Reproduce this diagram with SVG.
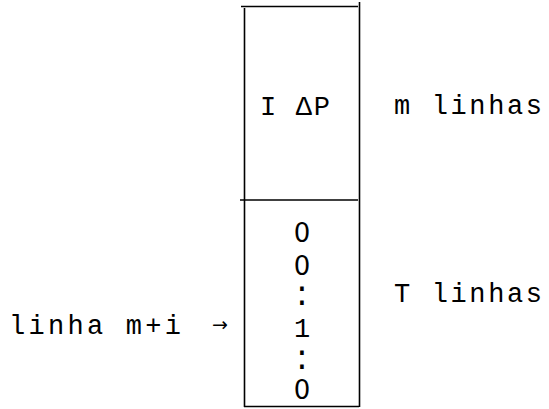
<svg xmlns="http://www.w3.org/2000/svg" width="549" height="409" viewBox="0 0 549 409">
<style>
.ln{stroke:#000;stroke-width:1.6;fill:none;stroke-linecap:butt}
.tw{font-family:"Liberation Mono","Courier New",monospace;font-size:27px;fill:#000}
.dg{font-family:"DejaVu Sans","Noto Sans",sans-serif;font-size:26px;fill:#000;text-anchor:middle}
.dt{font-family:"DejaVu Sans","Noto Sans",sans-serif;font-size:35px;fill:#000;text-anchor:middle}
</style>
<rect width="549" height="409" fill="#fff"/>
<g id="column">
<line class="ln" x1="241" y1="6.5" x2="358" y2="6.5"/>
<line class="ln" x1="244.5" y1="8" x2="244.5" y2="407"/>
<line class="ln" x1="359.5" y1="2" x2="359.5" y2="407"/>
<line class="ln" x1="240" y1="200" x2="358" y2="200"/>
<line class="ln" x1="244" y1="406.5" x2="359" y2="406.5"/>
</g>
<g id="block-top">
<text class="tw" x="260" y="115" textLength="70" lengthAdjust="spacing">I ΔP</text>
</g>
<g id="block-bottom">
<text class="dg" x="302" y="242">0</text>
<text class="dg" x="302" y="275">0</text>
<text class="dt" x="302" y="305">:</text>
<text class="tw" x="302" y="337" text-anchor="middle">1</text>
<text class="dt" x="302" y="369">:</text>
<text class="dg" x="302" y="399">0</text>
</g>
<g id="label-m">
<text class="tw" x="394" y="114" textLength="148" lengthAdjust="spacing">m linhas</text>
</g>
<g id="label-T">
<text class="tw" x="394" y="302" textLength="148" lengthAdjust="spacing">T linhas</text>
</g>
<g id="label-row">
<text class="tw" x="9" y="334" textLength="172" lengthAdjust="spacing">linha m+i</text>
</g>
<g id="connectors">
<text x="212" y="331" font-family="DejaVu Sans, sans-serif" font-size="19" fill="#000">→</text>
</g>
</svg>
